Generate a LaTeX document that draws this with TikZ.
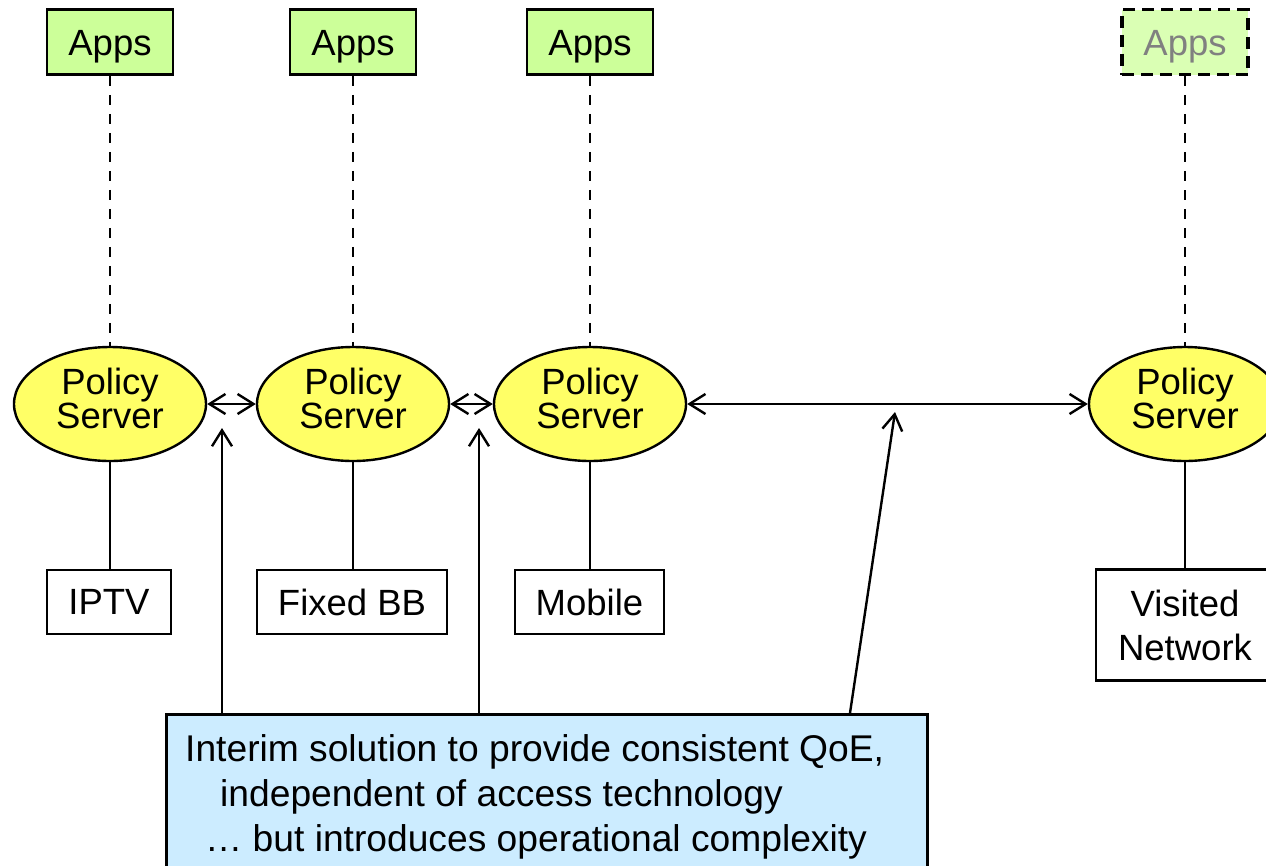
\documentclass[tikz,border=0pt]{standalone}
\usepackage{fontspec}
\setmainfont{Liberation Sans}
\usetikzlibrary{shapes.geometric,arrows.meta}
\definecolor{appsgreen}{RGB}{204,255,153}
\definecolor{appspale}{RGB}{218,255,180}
\definecolor{psyellow}{RGB}{255,255,102}
\definecolor{noteblue}{RGB}{204,236,255}
\definecolor{ghost}{RGB}{128,128,128}
\tikzset{
  appsbox/.style={draw, line width=2.6pt, fill=appsgreen, minimum width=126pt, minimum height=65pt, inner sep=0pt, text height=26pt, text depth=0pt, font=\fontsize{36.5}{36}\selectfont},
  ghostbox/.style={appsbox, fill=appspale, text=ghost, dash pattern=on 12pt off 7pt, line width=3.2pt},
  server/.style={draw, ellipse, line width=2.4pt, fill=psyellow, minimum width=192pt, minimum height=114pt, inner sep=0pt},
  servertext/.style={align=center, inner sep=0pt, yshift=5.5pt, font=\fontsize{36.5}{31}\selectfont},
  accbox/.style={draw, line width=2.6pt, fill=white, minimum height=64pt, inner sep=0pt, align=center, font=\fontsize{36.5}{44}\selectfont},
  notebox/.style={draw, line width=2.6pt, fill=noteblue, minimum width=761pt, minimum height=190pt, inner sep=0pt, anchor=north west},
  notetext/.style={align=left, inner sep=0pt, anchor=north west, font=\fontsize{37.2}{45}\selectfont},
  vdash/.style={line width=2.6pt, dash pattern=on 10pt off 9pt},
  vsolid/.style={line width=2.6pt},
  link/.style={line width=2.4pt, {Straight Barb[length=16pt,width=20pt,line width=2.4pt]}-{Straight Barb[length=16pt,width=20pt,line width=2.4pt]}},
  pointer/.style={line width=2.4pt, -{Straight Barb[length=16pt,width=20pt,line width=2.4pt]}}
}
\begin{document}
\begin{tikzpicture}[x=1pt,y=-1pt]
\useasboundingbox (0,0) rectangle (1266,865);
\clip (0,0) rectangle (1266,865);
\fill[white] (0,0) rectangle (1266,865);

% Apps boxes
\node[appsbox] (apps1) at (110,42) {Apps};
\node[appsbox] (apps2) at (353,42) {Apps};
\node[appsbox] (apps3) at (590,42) {Apps};
\node[ghostbox] (apps4) at (1185,42) {Apps};

% Policy servers
\node[server] (ps1) at (110,404) {};
\node[server] (ps2) at (353,404) {};
\node[server] (ps3) at (590,404) {};
\node[server] (ps4) at (1185,404) {};
\node[servertext] (ps1t) at (ps1.center) {Policy\\Server};
\node[servertext] (ps2t) at (ps2.center) {Policy\\Server};
\node[servertext] (ps3t) at (ps3.center) {Policy\\Server};
\node[servertext] (ps4t) at (ps4.center) {Policy\\Server};

% Access networks
\node[accbox, minimum width=124pt] (iptv) at (109,602) {IPTV};
\node[accbox, minimum width=190pt] (fixed) at (352,602) {Fixed BB};
\node[accbox, minimum width=149pt] (mobile) at (589.5,602) {Mobile};
\node[accbox, minimum width=178pt, minimum height=111pt] (visited) at (1185,625) {Visited\\Network};

% dashed links apps - servers
\draw[vdash] (apps1.south) -- (ps1.north);
\draw[vdash] (apps2.south) -- (ps2.north);
\draw[vdash] (apps3.south) -- (ps3.north);
\draw[vdash] (apps4.south) -- (ps4.north);

% solid links servers - access
\draw[vsolid] (ps1.south) -- (ps1.south |- iptv.north);
\draw[vsolid] (ps2.south) -- (ps2.south |- fixed.north);
\draw[vsolid] (ps3.south) -- (ps3.south |- mobile.north);
\draw[vsolid] (ps4.south) -- (visited.north);

% server interconnects
\draw[link] (ps1.east) -- (ps2.west);
\draw[link] (ps2.east) -- (ps3.west);
\draw[link] (ps3.east) -- (ps4.west);

% note box
\node[notebox] (note) at (165,713) {};
\node[notetext] (notetxt) at (185,734) {Interim solution to provide consistent QoE,\\\hspace*{35pt}independent of access technology\\\hspace*{20pt}… but introduces operational complexity};

% pointers
\coordinate (t1) at (222,428);
\coordinate (t2) at (479,428);
\coordinate (t3) at (895,412);
\coordinate (b3) at (850,713);
\draw[pointer] (note.north -| t1) -- (t1);
\draw[pointer] (note.north -| t2) -- (t2);
\draw[pointer] (note.north -| b3) -- (t3);
\end{tikzpicture}
\end{document}
